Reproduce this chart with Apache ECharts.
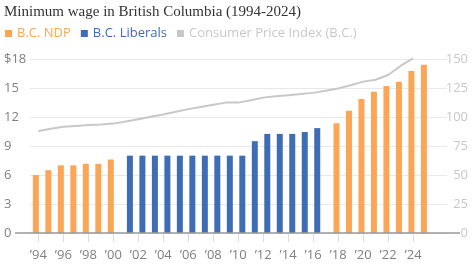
<!DOCTYPE html>
<html>
<head>
<meta charset="utf-8">
<script src="https://cdn.jsdelivr.net/npm/echarts@6/dist/echarts.min.js"></script>
<style>
  html, body { margin: 0; padding: 0; background: #fff; }
  #chart { width: 474px; height: 273px; }
</style>
</head>
<body>
<div id="chart"></div>
<script>
// bar dates (decimal years, as placed on the time scale) and wages
var ndpEarlyDates = [1993.8, 1994.8, 1995.8, 1996.8, 1997.8, 1998.8, 1999.8];
var ndpEarlyWage = [6.00, 6.50, 7.00, 7.00, 7.15, 7.15, 7.60];

var liberalDates = [2001.33, 2002.33, 2003.33, 2004.33, 2005.33, 2006.33, 2007.33, 2008.33,
                    2009.33, 2010.33, 2011.33, 2012.33, 2013.33, 2014.33, 2015.33, 2016.33];
var liberalWage = [8.00, 8.00, 8.00, 8.00, 8.00, 8.00, 8.00, 8.00,
                   8.00, 8.00, 9.50, 10.25, 10.25, 10.25, 10.45, 10.85];

var ndpLateDates = [2017.87, 2018.87, 2019.87, 2020.87, 2021.87, 2022.87, 2023.87, 2024.87];
var ndpLateWage = [11.35, 12.65, 13.85, 14.60, 15.20, 15.65, 16.75, 17.40];

// consumer price index, one point per year
var cpiYears = [1994, 1995, 1996, 1997, 1998, 1999, 2000, 2001, 2002, 2003, 2004,
                2005, 2006, 2007, 2008, 2009, 2010, 2011, 2012, 2013, 2014,
                2015, 2016, 2017, 2018, 2019, 2020, 2021, 2022, 2023, 2024];
var cpiValues = [88.0, 89.8, 91.5, 92.3, 93.0, 93.5, 94.3, 96.2, 98.1, 100.2, 102.2,
                 104.6, 106.8, 108.7, 110.6, 112.4, 112.4, 114.4, 116.7, 117.8, 118.8,
                 119.8, 120.8, 122.7, 124.6, 127.4, 130.5, 132.1, 136.2, 144.0, 150.6];

var yearTicks = [1994, 1996, 1998, 2000, 2002, 2004, 2006, 2008, 2010, 2012,
                 2014, 2016, 2018, 2020, 2022, 2024];

var ORANGE = '#fba656';
var BLUE = '#3e6db5';
var GREY = '#c8c8c8';
var FONT = '"Open Sans", sans-serif';

function pairs(xs, ys) {
    var out = [];
    for (var i = 0; i < xs.length; i++) {
        out.push([xs[i], ys[i]]);
    }
    return out;
}

var myChart = echarts.init(document.getElementById('chart'), null, { renderer: 'canvas' });

var option = {
    animation: false,
    title: {
        text: 'Minimum wage in British Columbia (1994-2024)',
        left: -1,
        top: 0,
        textStyle: {
            fontFamily: '"Liberation Serif", serif',
            fontSize: 15,
            fontWeight: 'normal',
            color: '#333'
        }
    },
    legend: {
        left: 0,
        top: 22,
        icon: 'rect',
        itemWidth: 7,
        itemHeight: 7,
        itemGap: 10,
        textStyle: { fontFamily: FONT, fontSize: 13 },
        data: [
            { name: 'B.C. NDP', textStyle: { color: ORANGE } },
            { name: 'B.C. Liberals', textStyle: { color: BLUE } },
            { name: 'Consumer Price Index (B.C.)', textStyle: { color: '#c8c8c8' } }
        ]
    },
    grid: { left: 30, right: 31, top: 59, bottom: 40 },
    xAxis: {
        type: 'value',
        min: 1993.33,
        max: 2026.4,
        splitLine: { show: false },
        axisLine: { show: false },
        axisTick: {
            show: true,
            customValues: yearTicks,
            length: 9,
            lineStyle: { color: '#dddddd' }
        },
        axisLabel: {
            customValues: yearTicks,
            margin: 16,
            fontFamily: FONT,
            fontSize: 13,
            color: '#808080',
            formatter: function (v) { return '\u2019' + String(v).slice(2); }
        }
    },
    yAxis: [
        {
            type: 'value',
            min: 0,
            max: 18,
            interval: 3,
            axisLine: { show: false },
            axisTick: { show: false },
            splitLine: { lineStyle: { color: '#e8e8e8' } },
            axisLabel: {
                align: 'left',
                margin: 26,
                fontFamily: FONT,
                fontSize: 13,
                color: '#808080',
                formatter: function (v) { return v === 18 ? '$18' : String(v); }
            }
        },
        {
            type: 'value',
            min: 0,
            max: 150,
            interval: 25,
            position: 'right',
            axisLine: { show: false },
            axisTick: { show: true, length: 4, lineStyle: { color: '#e8e8e8' } },
            splitLine: { show: false },
            axisLabel: {
                align: 'right',
                margin: 25,
                fontFamily: FONT,
                fontSize: 13,
                color: '#c8c8c8'
            }
        }
    ],
    series: [
        {
            name: 'B.C. NDP',
            type: 'bar',
            barWidth: 6,
            itemStyle: { color: ORANGE },
            data: pairs(ndpEarlyDates, ndpEarlyWage)
        },
        {
            name: 'B.C. Liberals',
            type: 'bar',
            barWidth: 6,
            barGap: '-100%',
            itemStyle: { color: BLUE },
            data: pairs(liberalDates, liberalWage)
        },
        {
            name: 'B.C. NDP',
            type: 'bar',
            barWidth: 6,
            barGap: '-100%',
            itemStyle: { color: ORANGE },
            data: pairs(ndpLateDates, ndpLateWage)
        },
        {
            name: 'Consumer Price Index (B.C.)',
            type: 'line',
            yAxisIndex: 1,
            showSymbol: false,
            symbol: 'none',
            lineStyle: { color: GREY, width: 2 },
            itemStyle: { color: GREY },
            z: 1,
            data: pairs(cpiYears, cpiValues)
        }
    ]
};
myChart.setOption(option);

// the zero baseline runs a little past the plot on both sides
var baseY = myChart.convertToPixel({ yAxisIndex: 0 }, 0);
myChart.setOption({
    graphic: [{
        type: 'line',
        z: 100,
        shape: { x1: 15, y1: baseY, x2: 460, y2: baseY },
        style: { stroke: '#999', lineWidth: 1.5 }
    }]
});
</script>
</body>
</html>
